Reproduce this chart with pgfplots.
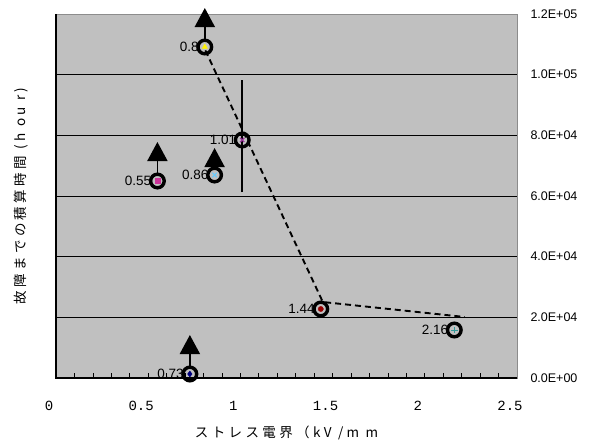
\documentclass[border=0pt]{standalone}
\usepackage{fontspec}
\setmainfont{Liberation Sans}
\newfontfamily\jp[LetterSpace=25]{Noto Sans CJK JP}
\newfontfamily\mono{Liberation Mono}
\usepackage{pgfplots}
\pgfplotsset{compat=1.18}
\usepackage{pgfplotstable}
\usetikzlibrary{arrows.meta}

\definecolor{bg}{RGB}{192,192,192}
\definecolor{frame}{RGB}{140,140,140}
\definecolor{mmag}{RGB}{204,51,153}
\definecolor{mcyan}{RGB}{102,204,255}
\definecolor{mpurp}{RGB}{153,51,153}
\definecolor{mred}{RGB}{153,0,0}
\definecolor{mteal}{RGB}{51,153,153}
\definecolor{mnavy}{RGB}{0,0,128}

% circled points: field (kV/mm), hours, label
\pgfplotstableread{
x      y       lab
0.807  109120  0.8
1.01   78460   1.01
0.55   64945   0.55
0.86   66923   0.86
1.436  22747   1.44
2.16   15824   2.16
0.726  1319    0.73
}\pts

% censored points: arrows upward from top of circle
\pgfplotstableread{
x      y       v
0.807  111757  10220
0.55   67582   10220
0.86   69560   6264
0.726  3956    10220
}\arr

\begin{document}
\begin{tikzpicture}
\begin{axis}[
    name=ax,
    scale only axis,
    width=461pt, height=364pt,
    xmin=0, xmax=2.5, ymin=0, ymax=120000,
    clip=false,
    axis background/.style={fill=bg},
    axis line style={frame, line width=0.8pt},
    xtick={0,0.5,1,1.5,2,2.5},
    xticklabels={0,0.5,1,1.5,2,2.5},
    minor x tick num=4,
    xtick pos=bottom,
    tick align=inside,
    major tick length=5pt, minor tick length=5pt,
    x tick style={black, line width=0.7pt},
    xticklabel style={font=\mono\fontsize{14}{16}\selectfont, xshift=-7pt, yshift=-20pt},
    ytick={0,20000,40000,60000,80000,100000,120000},
    yticklabels={0.0E+00,2.0E+04,4.0E+04,6.0E+04,8.0E+04,1.0E+05,1.2E+05},
    yticklabel pos=right,
    y tick style={draw=none},
    yticklabel style={font=\fontsize{12.5}{14}\selectfont, xshift=10pt},
    scaled y ticks=false,
    ymajorgrids,
    major grid style={black, line width=0.8pt},
    xlabel={\jp\fontsize{13.5}{15}\selectfont ストレス電界（kV /m m},
    xlabel style={at={(0.5,0)}, anchor=center, yshift=-55pt},
    ylabel={\jp\fontsize{13.5}{15}\selectfont 故障までの積算時間 (h ou r)},
    ylabel style={at={(0,0.5)}, anchor=center, rotate=0, yshift=35pt},
    after end axis/.code={
      \draw[black, line width=1.2pt] (rel axis cs:0,1) -- (rel axis cs:0,0) -- (rel axis cs:1,0);
    },
]
% trend line
\addplot[black, line width=1.9pt, dash pattern=on 6pt off 4pt]
  coordinates {(0.81,108000) (1.447,25055) (2.217,20110)};
% range bar at 1.01
\addplot[black, line width=1.8pt] coordinates {(1.01,61300) (1.01,98240)};
% censored arrows
\addplot[black, line width=1.8pt, -{Triangle[width=20pt,length=19pt]},
  quiver={u=0, v=\thisrow{v}}] table[x=x, y=y] {\arr};
% rings with labels
\addplot[only marks, black, mark=o, mark size=6.8pt, line width=3.4pt,
  nodes near coords, point meta=explicit symbolic,
  every node near coord/.style={anchor=east, inner sep=0pt, xshift=-6pt,
    font=\fontsize{13.5}{15}\selectfont, line width=0.4pt}]
  table[x=x, y=y, meta=lab] {\pts};
% inner markers
\addplot[only marks, mark=triangle*, mark size=3pt, color=yellow] coordinates {(0.807,109120)};
\addplot[only marks, mark=x, mark size=3pt, line width=1.1pt, color=mpurp] coordinates {(1.01,78460)};
\addplot[only marks, mark=square*, mark size=2.5pt, color=mmag] coordinates {(0.55,64945)};
\addplot[only marks, mark=x, mark size=3.2pt, line width=1pt, color=mcyan] coordinates {(0.86,66923)};
\addplot[only marks, mark=*, mark size=2.6pt, color=mred] coordinates {(1.436,22747)};
\addplot[only marks, mark=+, mark size=3.2pt, line width=1pt, color=mteal] coordinates {(2.16,15824)};
\addplot[only marks, mark=diamond*, mark size=3pt, color=mnavy] coordinates {(0.726,1319)};
\end{axis}
\pgfresetboundingbox
\path ([shift={(-56pt,-67pt)}]ax.south west) rectangle ([shift={(78pt,14pt)}]ax.north east);
\end{tikzpicture}
\end{document}
